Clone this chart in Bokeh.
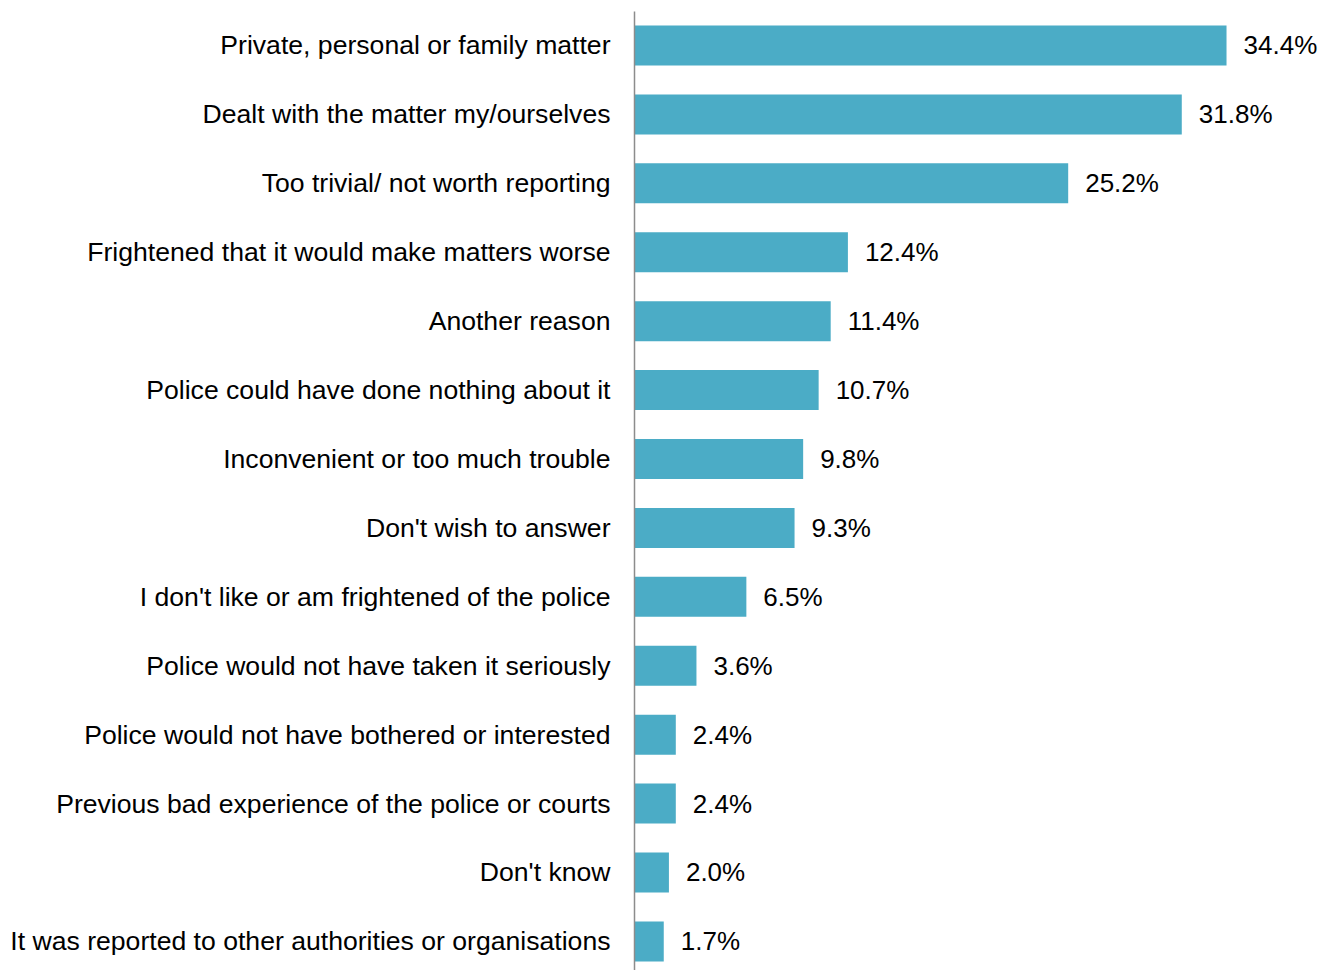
from bokeh.plotting import figure
from bokeh.models import Range1d, FixedTicker, ColumnDataSource
from bokeh.core.properties import value
from bokeh.embed import file_html
from bokeh.resources import INLINE

categories = [
    "Private, personal or family matter",
    "Dealt with the matter my/ourselves",
    "Too trivial/ not worth reporting",
    "Frightened that it would make matters worse",
    "Another reason",
    "Police could have done nothing about it",
    "Inconvenient or too much trouble",
    "Don't wish to answer",
    "I don't like or am frightened of the police",
    "Police would not have taken it seriously",
    "Police would not have bothered or interested",
    "Previous bad experience of the police or courts",
    "Don't know",
    "It was reported to other authorities or organisations",
]
values = [34.4, 31.8, 25.2, 12.4, 11.4, 10.7, 9.8, 9.3, 6.5, 3.6, 2.4, 2.4, 2.0, 1.7]

pos = list(range(len(categories)))
labels = [f"{v:.1f}%" for v in values]
src = ColumnDataSource(dict(y=pos, v=values, lab=labels))

FONT = "Liberation Sans"
FS = "26.6px"

p = figure(width=1319, height=970, output_backend="svg", toolbar_location=None,
           x_range=Range1d(0, 685 / 17.21), y_range=Range1d(13.422, -0.493),
           min_border_left=634, min_border_right=0, min_border_top=11, min_border_bottom=0)

p.hbar(y="y", right="v", left=0, height=0.58, source=src,
       fill_color="#4BACC6", line_color=None)
p.text(x="v", y="y", text="lab", source=src, x_offset=17,
       text_font=value(FONT), text_font_size="26px", text_baseline="middle",
       text_align="left", text_color="#000000")

p.xaxis.visible = False
p.xgrid.visible = False
p.ygrid.visible = False
p.outline_line_color = None

ya = p.yaxis[0]
ya.ticker = FixedTicker(ticks=pos)
ya.major_label_overrides = {i: c for i, c in enumerate(categories)}
ya.major_tick_line_color = None
ya.minor_tick_line_color = None
ya.major_tick_out = 0
ya.major_tick_in = 0
ya.major_label_standoff = 24
ya.major_label_text_font = FONT
ya.major_label_text_font_size = FS
ya.major_label_text_color = "#000000"
ya.axis_line_color = "#8c8c8c"
ya.axis_line_width = 1.5

open("out.html", "w").write(file_html(p, INLINE))
